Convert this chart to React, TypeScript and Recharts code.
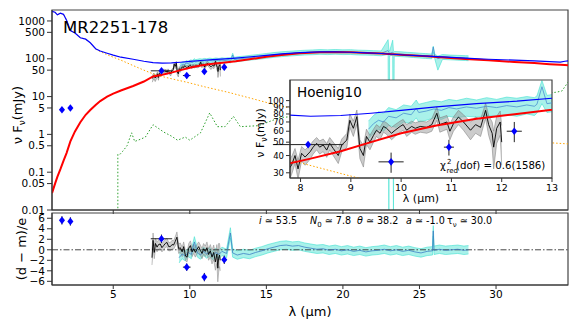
import React from "react";
import {
  ComposedChart,
  Line,
  Area,
  Scatter,
  ErrorBar,
  XAxis,
  YAxis,
  ReferenceArea,
  ReferenceLine,
  CartesianGrid,
} from "recharts";

// ---- model components ----
const modelX = [1.0, 1.2, 1.35, 1.55, 1.75, 1.95, 2.2, 2.5, 2.85, 3.2, 3.5, 3.85, 4.15, 4.6, 5.0, 5.5, 6.3, 7.0, 7.6, 8.2, 8.8, 9.4, 10.0, 10.7, 11.5, 12.3, 13.0, 14.0, 15.0, 16.0, 17.2, 18.5, 19.5, 20.5, 21.6, 22.5, 24.0, 25.5, 26.8, 28.0, 29.5, 31.2, 32.5, 33.5, 34.2, 34.5, 34.7];
const totalModel = [1800, 1700, 1450, 1600, 1500, 1050, 560, 480, 360, 330, 265, 185, 160, 140, 125, 110, 97, 86, 79, 77, 78, 81, 85, 90, 95, 99, 104, 113, 123, 134, 146, 152, 152, 149, 143, 138, 126, 117, 111, 104, 97, 92, 88, 84, 82, 86, 88];
const torusModel = [0.028, 0.05, 0.075, 0.12, 0.2, 0.32, 0.65, 1.2, 2.1, 3.3, 4.4, 6.0, 7.6, 10, 12, 14.5, 19, 25, 34, 38, 43, 50, 58, 66, 74, 80, 86, 98, 113, 126, 140, 148, 150, 148, 143, 138, 126, 116, 107, 99, 91, 82, 77, 72, 69, 68, 67];

const diskX = [1.0, 1.2, 1.35, 1.55, 1.75, 1.95, 2.2, 2.5, 2.85, 3.2, 3.5, 3.85, 4.15, 4.6, 5.0, 5.5, 6.3, 7.0, 7.8, 8.9, 9.8, 11.0, 12.5, 14.0, 15.3, 17.0, 19.0, 21.0, 23.0, 25.0, 27.0, 29.0, 31.0, 33.0, 34.7];
const diskModel = [1800, 1700, 1450, 1600, 1500, 1050, 560, 480, 360, 330, 262, 180, 155, 128, 110, 92, 66, 50, 37, 29, 24, 18, 13, 9, 6.5, 4.5, 3.2, 2.3, 1.7, 1.3, 1.0, 0.85, 0.72, 0.62, 0.56];

const nlrX = [5.3, 5.3, 5.45, 5.6, 5.9, 6.2, 6.4, 6.8, 7.1, 7.6, 8.0, 8.3, 8.8, 9.2, 9.7, 10.0, 10.7, 11.3, 11.8, 12.3, 12.85, 13.3, 14.5, 15.9, 18.0, 22.0, 26.0, 30.0, 33.0, 33.9, 34.3, 34.7];
const nlrModel = [0.009, 0.3, 0.3, 0.35, 0.5, 1.1, 0.65, 0.75, 0.85, 1.8, 1.4, 1.15, 0.9, 0.7, 0.85, 0.7, 1.1, 3.7, 1.6, 1.6, 3.0, 1.6, 1.7, 2.8, 3.2, 4.5, 6.5, 9, 12, 13, 14, 24];

// ---- Spitzer spectrum ----
const irsX = [9.35, 9.45, 9.55, 9.65, 9.75, 9.9, 10.05, 10.2, 10.3, 10.35, 10.5, 10.65, 10.8, 10.95, 11.1, 11.3, 11.5, 11.7, 11.9, 12.1, 12.3, 12.5, 12.65, 12.7, 12.8, 12.9, 13.2, 13.6, 14.0, 14.5, 15.0, 15.5, 16.0, 16.5, 17.0, 17.5, 18.0, 18.5, 19.0, 19.5, 20.0, 20.5, 21.0, 21.5, 22.0, 22.5, 22.95, 23.0, 23.05, 23.25, 23.3, 23.35, 23.8, 24.2, 24.6, 25.0, 25.4, 25.8, 25.9, 26.0, 26.2, 26.5, 27.0, 27.5, 28.0, 28.2];
const irsFlux = [62, 68, 72, 70, 77, 75, 81, 79, 88, 82, 84, 87, 85, 89, 87, 90, 88, 91, 89, 92, 90, 93, 91, 94, 126, 95, 99, 103, 108, 113, 120, 127, 133, 137, 142, 146, 149, 152, 150, 153, 150, 151, 147, 145, 143, 140, 165, 150, 138, 150, 140, 136, 133, 129, 126, 122, 119, 116, 205, 115, 100, 112, 109, 107, 105, 104];
const irsLo = [53, 58, 62, 60, 66, 64, 70, 68, 75, 70, 72, 75, 73, 77, 75, 77, 76, 78, 77, 79, 77, 80, 78, 81, 95, 82, 85, 89, 93, 97, 103, 109, 114, 118, 122, 126, 128, 131, 129, 132, 129, 130, 126, 125, 123, 120, 130, 0.008, 119, 125, 0.008, 117, 114, 111, 108, 105, 102, 100, 150, 99, 50, 96, 94, 92, 90, 89];
const irsHi = [71, 78, 83, 81, 89, 86, 93, 91, 101, 94, 97, 100, 98, 102, 100, 104, 101, 105, 102, 106, 104, 107, 105, 108, 140, 109, 114, 118, 124, 130, 138, 146, 153, 158, 163, 168, 171, 175, 172, 176, 172, 174, 169, 167, 164, 161, 320, 175, 159, 310, 161, 156, 153, 148, 145, 140, 137, 133, 215, 132, 118, 129, 125, 123, 121, 120];

// ---- ground based N-band spectrum ----
const nbandX = [7.55, 7.65, 7.74, 7.82, 7.89, 7.95, 8.02, 8.09, 8.19, 8.25, 8.32, 8.38, 8.45, 8.52, 8.58, 8.65, 8.75, 8.82, 8.92, 8.98, 9.05, 9.12, 9.18, 9.25, 9.31, 9.38, 9.45, 9.51, 9.58, 9.65, 9.71, 9.81, 9.88, 9.98, 10.04, 10.11, 10.21, 10.28, 10.38, 10.51, 10.61, 10.71, 10.77, 10.91, 10.97, 11.04, 11.14, 11.24, 11.38, 11.48, 11.58, 11.64, 11.68, 11.74, 11.81, 11.84, 11.9, 11.97, 12.0];
const nbandFlux = [30, 36, 31, 34, 40, 32, 41.5, 39, 42.6, 46, 49, 46, 47.7, 43.8, 49, 45, 40, 47.7, 51.8, 72, 63, 76.5, 45, 40, 55, 50, 56, 61, 58, 65, 63, 58, 61, 65, 67, 61, 65, 63, 65, 64, 67, 81, 67, 70, 60, 68, 76, 70, 61, 67, 64, 76, 85, 67, 58, 46, 63, 70, 50];
const nbandErr = [6, 6, 6, 5, 5, 5, 5, 5, 5, 5, 5, 5, 5, 5, 5, 5, 5, 5, 6, 8, 8, 9, 7, 7, 7, 6, 6, 6, 6, 6, 6, 6, 6, 6, 6, 6, 6, 6, 6, 6, 7, 9, 8, 8, 8, 8, 9, 9, 9, 9, 9, 10, 11, 11, 12, 14, 14, 14, 16];

// ---- photometry ----
const photX = [1.65, 2.2, 8.15, 9.8, 10.95, 12.25];
const photFlux = [4.5, 5.0, 48, 36, 46, 60];
const photXErr = [0.05, 0.05, 0.7, 0.25, 0.1, 0.15];
const photFluxErr = [0.5, 0.6, 2, 6, 6, 10];
const photResid = [5.6, 5.4, 2.1, -3.3, -5.2, -1.9];
const photResidErr = [0.8, 0.8, 0.8, 0.7, 0.8, 0.8];

// ---- residuals ----
const resNbX = [7.53, 7.6, 7.68, 7.76, 7.86, 7.96, 8.07, 8.18, 8.29, 8.4, 8.51, 8.62, 8.73, 8.84, 8.94, 9.05, 9.16, 9.27, 9.38, 9.5, 9.6, 9.72, 9.82, 9.93, 10.04, 10.15, 10.25, 10.36, 10.47, 10.58, 10.69, 10.8, 10.9, 11.01, 11.12, 11.23, 11.34, 11.45, 11.56, 11.67, 11.77, 11.83, 11.88, 11.94, 11.99];
const resNb = [-1.5, 1.8, -0.5, 1.2, 0.5, 1.0, 1.1, 0.4, 0.8, 1.2, 1.4, 0.6, 0.6, 1.0, 0.9, 1.6, 2.4, 0.2, 0.4, -0.4, 0.6, -1.2, -1.4, 0.3, 0.8, -0.4, 0.2, -0.5, 0.1, 0.6, -0.1, -0.7, 0.2, -0.3, 0.4, -0.9, -0.2, -1.4, -0.5, -2.3, -0.8, -3.5, -1.6, -1.0, -2.0];
const resNbErr = [1.4, 1.4, 1.2, 1.0, 0.9, 0.9, 0.8, 0.8, 0.8, 0.8, 0.8, 0.8, 0.8, 0.8, 0.8, 0.9, 1.0, 0.9, 0.9, 0.9, 0.9, 0.9, 0.9, 0.9, 0.9, 0.9, 0.9, 0.9, 0.9, 0.9, 1.0, 1.0, 1.0, 1.0, 1.1, 1.1, 1.2, 1.3, 1.4, 1.6, 1.8, 2.6, 2.8, 2.2, 2.0];

const resIrsX = [9.3, 9.5, 9.7, 9.9, 10.1, 10.3, 10.5, 10.7, 10.9, 11.1, 11.3, 11.5, 11.7, 11.9, 12.1, 12.4, 12.65, 12.8, 13.1, 13.5, 13.9, 14.3, 14.7, 15.1, 15.5, 15.9, 16.3, 16.7, 17.1, 17.5, 17.9, 18.3, 18.7, 19.1, 19.5, 19.9, 20.3, 20.7, 21.1, 21.5, 21.9, 22.3, 22.7, 23.1, 23.5, 23.9, 24.3, 24.7, 25.1, 25.5, 25.85, 25.9, 25.95, 26.3, 26.7, 27.1, 27.5, 27.9, 28.2];
const resIrs = [-1.5, -0.8, -1.2, -0.5, -0.9, 1.5, -0.6, -1.0, -0.3, -0.8, -0.4, -1.1, -0.5, -0.9, -0.3, -0.7, 3.2, -0.6, -1.0, -0.7, -0.9, -0.5, -0.2, 0.2, 0.5, 0.8, 0.9, 0.7, 0.8, 0.5, 0.3, 0.1, 0.2, -0.1, 0.1, -0.2, 0.0, -0.3, -0.1, -0.4, -0.2, -0.1, 0.1, -0.2, 0.0, -0.3, -0.1, -0.4, -0.6, -0.3, -0.2, 3.6, -0.1, 0.1, -0.1, 0.0, 0.1, -0.1, 0.0];
const resIrsErr = [1.0, 0.9, 0.9, 0.8, 0.8, 1.0, 0.8, 0.8, 0.8, 0.8, 0.8, 0.8, 0.8, 0.8, 0.8, 0.8, 1.0, 0.8, 0.8, 0.8, 0.8, 0.8, 0.8, 0.8, 0.8, 0.8, 0.8, 0.8, 0.8, 0.8, 0.8, 0.8, 0.8, 0.8, 0.8, 0.8, 0.8, 0.8, 0.8, 0.8, 0.8, 0.8, 0.8, 0.8, 0.8, 0.8, 0.8, 0.8, 0.8, 0.8, 0.8, 1.0, 0.8, 0.8, 0.8, 0.8, 0.8, 0.8, 0.8];

// ---- ticks ----
const lamTicks = [5, 10, 15, 20, 25, 30];
const sedTicks = [0.01, 0.05, 0.1, 0.5, 1, 5, 10, 50, 100, 500, 1000];
const sedMinor = [0.02, 0.03, 0.04, 0.06, 0.07, 0.08, 0.09, 0.2, 0.3, 0.4, 0.6, 0.7, 0.8, 0.9, 2, 3, 4, 6, 7, 8, 9, 20, 30, 40, 60, 70, 80, 90, 200, 300, 400, 600, 700, 800, 900];
const resTicks = [-6, -4, -2, 0, 2, 4, 6];
const insetXTicks = [8, 9, 10, 11, 12, 13];
const insetYTicks = [30, 40, 50, 60, 70, 80, 90, 100];

const FONT = "DejaVu Sans";

const toPts = (xs: number[], ys: number[]) => xs.map((x, i) => ({ x, y: ys[i] }));
const toBand = (xs: number[], lo: number[], hi: number[]) =>
  xs.map((x, i) => ({ x, band: [lo[i], hi[i]] }));

const totalPts = toPts(modelX, totalModel);
const torusPts = toPts(modelX, torusModel);
const diskPts = toPts(diskX, diskModel);
const nlrPts = toPts(nlrX, nlrModel);
const irsPts = toPts(irsX, irsFlux);
const irsBand = toBand(irsX, irsLo, irsHi);
const nbandPts = toPts(nbandX, nbandFlux);
const nbandBand = toBand(
  nbandX,
  nbandFlux.map((f, i) => f - nbandErr[i]),
  nbandFlux.map((f, i) => f + nbandErr[i])
);
const photPts = photX.map((x, i) => ({ x, y: photFlux[i], ex: photXErr[i], ey: photFluxErr[i] }));
const photResPts = photX.map((x, i) => ({ x, y: photResid[i], ex: photXErr[i], ey: photResidErr[i] }));
const resNbPts = toPts(resNbX, resNb);
const resNbBand = toBand(
  resNbX,
  resNb.map((v, i) => v - resNbErr[i]),
  resNb.map((v, i) => v + resNbErr[i])
);
const resIrsPts = toPts(resIrsX, resIrs);
const resIrsBand = toBand(
  resIrsX,
  resIrs.map((v, i) => v - resIrsErr[i]),
  resIrs.map((v, i) => v + resIrsErr[i])
);

function Diamond(props: any) {
  const { cx, cy } = props;
  if (cx == null || cy == null) return null;
  const r = 3.8;
  return (
    <polygon
      points={`${cx},${cy - r} ${cx + r * 0.8},${cy} ${cx},${cy + r} ${cx - r * 0.8},${cy}`}
      fill="#0000ff"
    />
  );
}

const tickStyle = { fill: "#000", fontSize: 10.5, fontFamily: FONT };
const minus = (v: number) => String(v).replace("-", "\u2212");

// the SED layers, shared by main panel and inset
function sedLayers(k: string) {
  return [
    <Line key={k + "disk"} data={diskPts} dataKey="y" stroke="#ffa500" strokeWidth={1} strokeDasharray="1.5 2" dot={false} isAnimationActive={false} />,
    <Line key={k + "nlr"} data={nlrPts} dataKey="y" stroke="#2ca02c" strokeWidth={1} strokeDasharray="1.5 2" dot={false} isAnimationActive={false} />,
    <Area key={k + "irsb"} data={irsBand} dataKey="band" type="linear" stroke="#40e0d0" strokeWidth={0.6} fill="#40e0d0" fillOpacity={0.45} isAnimationActive={false} />,
    <Line key={k + "irs"} data={irsPts} dataKey="y" stroke="#4a8fd0" strokeWidth={0.8} dot={false} isAnimationActive={false} />,
    <Area key={k + "nbb"} data={nbandBand} dataKey="band" type="linear" stroke="#777" strokeWidth={0.5} fill="#999" fillOpacity={0.5} isAnimationActive={false} />,
    <Line key={k + "nb"} data={nbandPts} dataKey="y" stroke="#000" strokeWidth={0.9} dot={false} isAnimationActive={false} />,
    <Line key={k + "torus"} data={torusPts} dataKey="y" stroke="#ff0000" strokeWidth={2} dot={false} isAnimationActive={false} />,
    <Line key={k + "total"} data={totalPts} dataKey="y" stroke="#0000ff" strokeWidth={1.2} dot={false} isAnimationActive={false} />,
    <Scatter key={k + "phot"} data={photPts} dataKey="y" shape={Diamond} isAnimationActive={false}>
      <ErrorBar dataKey="ey" direction="y" width={0} stroke="#222" strokeWidth={1} />
      <ErrorBar dataKey="ex" direction="x" width={0} stroke="#222" strokeWidth={1} />
    </Scatter>,
  ];
}

export default function App() {
  return (
    <div style={{ position: "absolute", left: 0, top: 0, width: 581, height: 323, background: "#fff", fontFamily: FONT }}>
      {/* main SED panel */}
      <div style={{ position: "absolute", left: 0, top: 0 }}>
        <ComposedChart width={581} height={215} margin={{ top: 10, right: 13, bottom: 0, left: 0 }}>
          <XAxis dataKey="x" type="number" domain={[1, 34.7]} allowDataOverflow ticks={lamTicks} tickFormatter={() => ""} tickSize={4} height={5} interval={0} stroke="#333" />
          <YAxis yAxisId="minor" scale="log" domain={[0.01, 1950]} allowDataOverflow ticks={sedMinor} tickFormatter={() => ""} tickSize={2.5} width={0} axisLine={false} interval={0} stroke="#333" />
          <YAxis scale="log" domain={[0.01, 1950]} allowDataOverflow ticks={sedTicks} tick={tickStyle} tickSize={5} width={52} interval={0} stroke="#333" />
          {sedLayers("m")}
          <ReferenceArea x1={1} x2={34.7} y1={0.01} y2={1950} fill="none" stroke="#444" strokeWidth={1.2} />
        </ComposedChart>
      </div>

      {/* residual panel */}
      <div style={{ position: "absolute", left: 0, top: 205 }}>
        <ComposedChart width={581} height={118} margin={{ top: 8, right: 13, bottom: 0, left: 0 }}>
          <XAxis dataKey="x" type="number" domain={[1, 34.7]} allowDataOverflow ticks={lamTicks} tick={tickStyle} tickSize={4} height={38} interval={0} stroke="#333" />
          <YAxis type="number" domain={[-6.7, 7]} allowDataOverflow ticks={resTicks} tick={tickStyle} tickFormatter={minus} tickSize={5} width={52} interval={0} stroke="#333" />
          <ReferenceLine y={0} stroke="#333" strokeWidth={0.9} strokeDasharray="6 2 1.5 2" />
          <Area data={resIrsBand} dataKey="band" type="linear" stroke="#40e0d0" strokeWidth={0.6} fill="#40e0d0" fillOpacity={0.45} isAnimationActive={false} />
          <Line data={resIrsPts} dataKey="y" stroke="#3d7fc4" strokeWidth={0.8} dot={false} isAnimationActive={false} />
          <Area data={resNbBand} dataKey="band" type="linear" stroke="#888" strokeWidth={0.5} fill="#999" fillOpacity={0.45} isAnimationActive={false} />
          <Line data={resNbPts} dataKey="y" stroke="#000" strokeWidth={0.9} dot={false} isAnimationActive={false} />
          <Scatter data={photResPts} dataKey="y" shape={Diamond} isAnimationActive={false}>
            <ErrorBar dataKey="ey" direction="y" width={0} stroke="#222" strokeWidth={1} />
            <ErrorBar dataKey="ex" direction="x" width={0} stroke="#222" strokeWidth={1} />
          </Scatter>
          <ReferenceArea x1={1} x2={34.7} y1={-6.7} y2={7} fill="none" stroke="#444" strokeWidth={1.2} />
        </ComposedChart>
      </div>

      {/* inset zoom on the N band */}
      <div style={{ position: "absolute", left: 237, top: 70 }}>
        <ComposedChart width={323} height={135} margin={{ top: 10, right: 8, bottom: 0, left: 0 }}>
          <CartesianGrid horizontal={false} vertical={false} fill="#fff" />
          <XAxis dataKey="x" type="number" domain={[7.79, 13]} allowDataOverflow ticks={insetXTicks} tick={{ ...tickStyle, fontSize: 9.5 }} tickSize={4} height={27} interval={0} stroke="#333" />
          <YAxis scale="log" domain={[27.5, 141]} allowDataOverflow ticks={insetYTicks} tick={{ ...tickStyle, fontSize: 8.5 }} tickSize={4} width={53} interval={0} stroke="#333" />
          {sedLayers("i")}
          <ReferenceArea x1={7.79} x2={13} y1={27.5} y2={141} fill="none" stroke="#444" strokeWidth={1.2} />
        </ComposedChart>
      </div>

      {/* text overlay */}
      <svg width={581} height={323} style={{ position: "absolute", left: 0, top: 0, pointerEvents: "none" }} fontFamily={FONT}>
        <text x={63} y={33} fontSize={16.5} fill="#000">MR2251-178</text>
        <text transform="translate(21.5,115) rotate(-90)" textAnchor="middle" fontSize={13} fill="#000">
          ν F<tspan dy={3} fontSize={9}>ν</tspan><tspan dy={-3}>(mJy)</tspan>
        </text>
        <text transform="translate(26,249) rotate(-90)" textAnchor="middle" fontSize={13} fill="#000">
          (d − m)/e
        </text>
        <text x={310} y={316} textAnchor="middle" fontSize={13} fill="#000">λ (μm)</text>

        <g fontSize={9.6} fill="#000">
          <text x={259} y={224}><tspan fontStyle="italic">i</tspan> ≃ 53.5</text>
          <text x={310} y={224}><tspan fontStyle="italic">N</tspan><tspan dy={2.5} fontSize={7}>0</tspan><tspan dy={-2.5}> ≃ 7.8</tspan></text>
          <text x={357} y={224}><tspan fontStyle="italic">θ</tspan> ≃ 38.2</text>
          <text x={406} y={224}><tspan fontStyle="italic">a</tspan> ≃ -1.0</text>
          <text x={447} y={224}>τ<tspan dy={2.5} fontSize={7}>ν</tspan><tspan dy={-2.5}> ≃ 30.0</tspan></text>
        </g>

        <text x={297} y={97} fontSize={13.5} fill="#000">Hoenig10</text>
        <g fontSize={10.2} fill="#000">
          <text x={440} y={169}>χ</text>
          <text x={447} y={164} fontSize={7}>2</text>
          <text x={446.5} y={172.5} fontSize={7}>red</text>
          <text x={456} y={169}>(dof) = 0.6(1586)</text>
        </g>
        <text x={421} y={202} textAnchor="middle" fontSize={11} fill="#000">λ (μm)</text>
        <text transform="translate(264,133) rotate(-90)" textAnchor="middle" fontSize={11} fill="#000">
          ν F<tspan dy={2.5} fontSize={8}>ν</tspan><tspan dy={-2.5}>(mJy)</tspan>
        </text>
      </svg>
    </div>
  );
}
